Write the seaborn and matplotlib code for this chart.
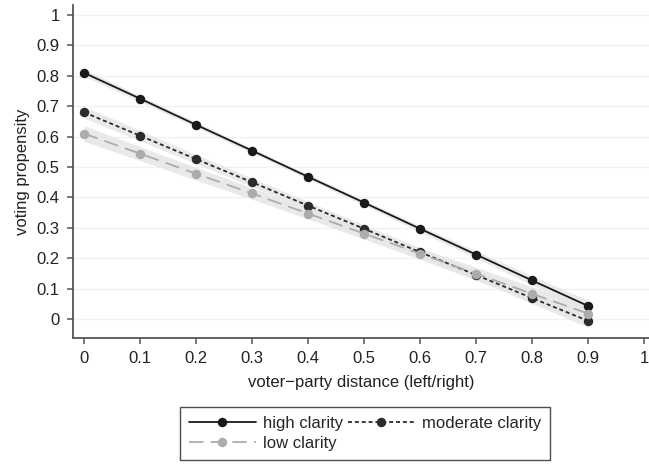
import matplotlib
matplotlib.use("Agg")
import matplotlib.pyplot as plt
import seaborn as sns
import numpy as np
import pandas as pd

distance = [0.0, 0.1, 0.2, 0.3, 0.4, 0.5, 0.6, 0.7, 0.8, 0.9]
high = [0.81, 0.725, 0.639, 0.554, 0.468, 0.383, 0.297, 0.212, 0.127, 0.043]
moderate = [0.68, 0.603, 0.526, 0.45, 0.373, 0.297, 0.22, 0.145, 0.069, -0.006]
low = [0.61, 0.544, 0.478, 0.413, 0.347, 0.281, 0.215, 0.149, 0.083, 0.018]
high_ci = [0.012, 0.010, 0.009, 0.008, 0.008, 0.009, 0.010, 0.012, 0.015, 0.019]
moderate_ci = [0.019, 0.017, 0.015, 0.014, 0.013, 0.013, 0.014, 0.016, 0.018, 0.021]
low_ci = [0.026, 0.023, 0.021, 0.019, 0.018, 0.018, 0.019, 0.021, 0.023, 0.026]
labels = ["high clarity", "moderate clarity", "low clarity"]

sns.set_theme(style="white")
plt.rcParams['font.family'] = ['Liberation Sans', 'DejaVu Sans']

FS = 12
fig = plt.figure(figsize=(6.49, 4.65), dpi=100)
ax = fig.add_axes([73/649, 1-338/465, 1-73/649, (338-5)/465])

series = [
    (labels[0], high, high_ci, "#1a1a1a", "-"),
    (labels[1], moderate, moderate_ci, "#2b2b2b", (0, (2.2, 1.6))),
    (labels[2], low, low_ci, "#acacac", (0, (8, 4))),
]

x = np.array(distance)
for lab, y, ci, col, ls in series:
    y = np.array(y); ci = np.array(ci)
    ax.fill_between(x, y - ci, y + ci, color="#e6e6e6", alpha=0.85, linewidth=0, zorder=1)

for lab, y, ci, col, ls in series:
    df = pd.DataFrame({"x": distance, "y": y})
    sns.lineplot(data=df, x="x", y="y", ax=ax, color=col, linestyle=ls,
                 marker="o", markersize=6.8, markeredgewidth=0, linewidth=1.3,
                 label=lab, zorder=3)

ax.set_xlim(-11/560, 1 + 5/560)
ax.set_ylim(-19/304, 1 + 10/304)
ax.set_xticks(np.round(np.arange(0, 1.01, 0.1), 1))
ax.set_xticklabels(["0"] + [f"{v:.1f}" for v in np.arange(0.1, 0.95, 0.1)] + ["1"])
ax.set_yticks(np.round(np.arange(0, 1.01, 0.1), 1))
ax.set_yticklabels(["0"] + [f"{v:.1f}" for v in np.arange(0.1, 0.95, 0.1)] + ["1"])
for yv in np.arange(0, 1.01, 0.1):
    ax.axhline(yv, color="#f1f1f1", linewidth=1, zorder=0)

for s in ["top", "right"]:
    ax.spines[s].set_visible(False)
for s in ["left", "bottom"]:
    ax.spines[s].set_color("#555555")
    ax.spines[s].set_linewidth(1.3)
ax.tick_params(axis="both", which="major", direction="out", length=4.5, width=1.1,
               color="#555555", labelsize=FS, labelcolor="#222222", left=True, bottom=True, pad=5)
ax.set_xlabel("voter\u2212party distance (left/right)", fontsize=FS, color="#222222", labelpad=6)
ax.set_ylabel("voting propensity", fontsize=FS, color="#222222", labelpad=5)

handles, lbls = ax.get_legend_handles_labels()
ax.get_legend().remove()
order = [0, 2, 1]
leg = fig.legend([handles[i] for i in order], [lbls[i] for i in order],
                 loc="upper center", bbox_to_anchor=(365/649, 1-407/465),
                 ncol=2, frameon=True, fontsize=FS, handlelength=4.0, columnspacing=0.3,
                 handletextpad=0.42, borderpad=0.55, labelspacing=0.3, fancybox=False,
                 borderaxespad=0)
leg.get_frame().set_edgecolor("#222222")
leg.get_frame().set_linewidth(1.0)

fig.savefig("out.png", dpi=100)
